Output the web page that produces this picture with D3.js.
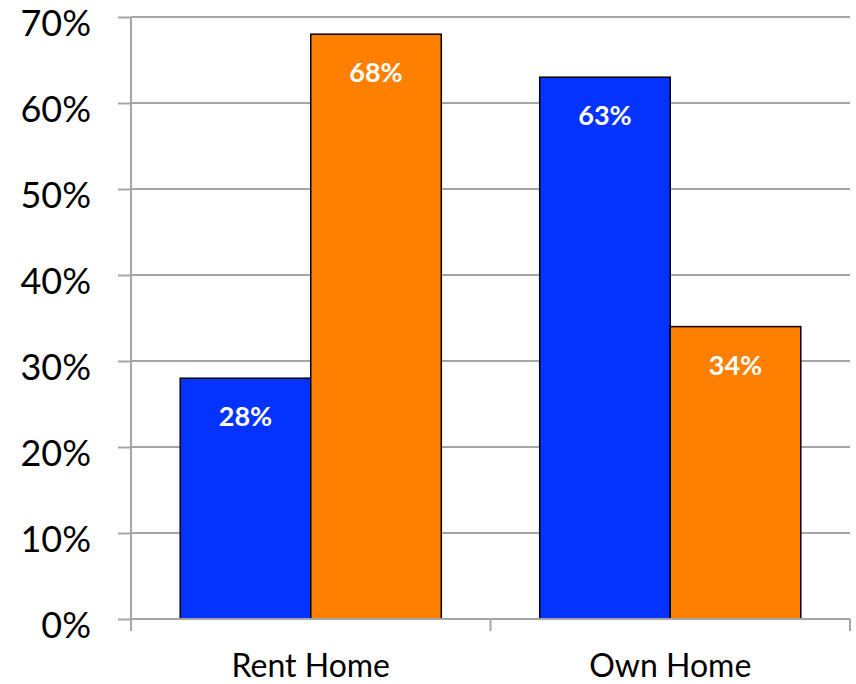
<!DOCTYPE html>
<html><head><meta charset="utf-8">
<script src="https://cdn.jsdelivr.net/npm/d3@7"></script>
<style>body{margin:0;background:#fff}svg{display:block}</style>
</head><body>
<svg id="c" width="856" height="684"></svg>
<script>
const categories = ["Rent Home", "Own Home"];
const seriesNames = ["Series A", "Series B"];
const seriesA = [28, 63];
const seriesB = [68, 34];
const yTicks = [0, 10, 20, 30, 40, 50, 60, 70];
const colors = ["#0433FF", "#FF7F00"];

(function () {
const svg = d3.select("#c");
const mLeft = 131, mRight = 850, mTop = 17, mBottom = 619;
const font = "Lato, 'Open Sans', sans-serif";

const x0 = d3.scaleBand().domain(categories).range([mLeft, mRight]).paddingInner(0).paddingOuter(0);
const inner = d3.scaleBand().domain(seriesNames).range([0, x0.bandwidth()]).paddingInner(0).paddingOuter(0.377);
const y = d3.scaleLinear().domain([0, 70]).range([mBottom, mTop]);

// gridlines
svg.append("g").selectAll("line").data(yTicks.filter(d => d > 0)).join("line")
  .attr("x1", mLeft).attr("x2", mRight)
  .attr("y1", d => y(d)).attr("y2", d => y(d))
  .attr("stroke", "#A6A6A6").attr("stroke-width", 2);

// y axis
const yAxis = d3.axisLeft(y).tickValues(yTicks).tickFormat(d => d + "%").tickSize(13).tickPadding(27);
const gy = svg.append("g").attr("transform", `translate(${mLeft},0)`).call(yAxis);
gy.select(".domain").attr("stroke", "#A6A6A6").attr("stroke-width", 2).attr("d", `M0,${mTop}V${mBottom}`);
gy.selectAll(".tick line").attr("stroke", "#A6A6A6").attr("stroke-width", 2);
gy.selectAll(".tick text").attr("font-family", font).attr("font-size", 36).attr("fill", "#000")
  .attr("dy", null).attr("y", 18);

const data = categories.map((c, i) => ({cat: c, vals: [seriesA[i], seriesB[i]]}));

const groups = svg.append("g").selectAll("g").data(data).join("g")
  .attr("transform", d => `translate(${x0(d.cat)},0)`);
groups.selectAll("rect").data(d => d.vals.map((v, j) => ({v, s: seriesNames[j], j}))).join("rect")
  .attr("x", d => inner(d.s)).attr("width", inner.bandwidth())
  .attr("y", d => y(d.v)).attr("height", d => y(0) - y(d.v))
  .attr("fill", d => colors[d.j]).attr("stroke", "#000").attr("stroke-width", 1.5);
groups.selectAll("text").data(d => d.vals.map((v, j) => ({v, s: seriesNames[j], j}))).join("text")
  .attr("x", d => inner(d.s) + inner.bandwidth() / 2)
  .attr("y", d => y(d.v) + 48)
  .attr("text-anchor", "middle").attr("fill", "#fff")
  .attr("font-family", font).attr("font-weight", "bold").attr("font-size", 27)
  .text(d => d.v + "%");

// x axis
const xAxis = d3.axisBottom(x0).tickSize(0).tickPadding(0);
const gx = svg.append("g").attr("transform", `translate(0,${mBottom})`).call(xAxis);
gx.select(".domain").remove();
gx.selectAll(".tick text").attr("font-family", font).attr("font-size", 32).attr("fill", "#000")
  .attr("dy", null).attr("y", 58);
svg.append("line").attr("x1", mLeft).attr("x2", mRight).attr("y1", mBottom).attr("y2", mBottom)
  .attr("stroke", "#A6A6A6").attr("stroke-width", 2);
const bounds = [mLeft, ...categories.slice(1).map(c => x0(c)), mRight];
svg.append("g").selectAll("line").data(bounds).join("line")
  .attr("x1", d => d).attr("x2", d => d).attr("y1", mBottom).attr("y2", mBottom + 12)
  .attr("stroke", "#A6A6A6").attr("stroke-width", 2);
})();
</script>
</body></html>
